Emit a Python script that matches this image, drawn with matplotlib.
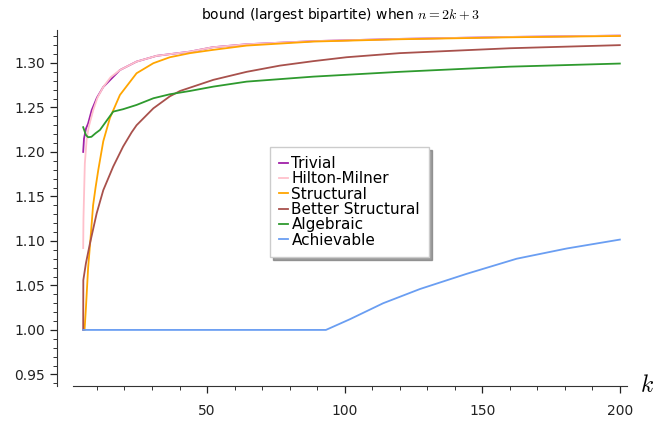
import matplotlib
matplotlib.use("Agg")
import matplotlib.pyplot as plt
from matplotlib.ticker import MultipleLocator

plt.rcParams['mathtext.fontset'] = 'cm'

# 値は画像から読み取り
k_trivial = [5.0, 5.3, 6.0, 6.8, 8.1, 10.0, 12.3, 18.35, 24.4, 31.7, 43.8, 52.0, 64.4, 88.6, 120, 160, 200]
y_trivial = [1.200, 1.215, 1.226, 1.232, 1.247, 1.261, 1.273, 1.292, 1.3015, 1.308, 1.3127,
             1.3176, 1.321, 1.3245, 1.327, 1.3292, 1.3307]

k_hm = [5.0, 5.1, 5.3, 5.6, 6.25, 7.0, 8.65, 10.2, 12.3, 15.0, 18.35, 24.4, 31.7, 43.8, 52.0,
        64.4, 88.6, 120, 160, 200]
y_hm = [1.092, 1.125, 1.150, 1.187, 1.2135, 1.228, 1.247, 1.261, 1.273, 1.284, 1.292, 1.3015,
        1.308, 1.3127, 1.3176, 1.321, 1.3245, 1.327, 1.3292, 1.3307]

k_struct = [5.5, 6.0, 6.8, 7.6, 8.6, 9.5, 10.5, 12.3, 14.7, 18.35, 24.4, 30.5, 36.5, 43.8, 52.0,
            64.4, 88.6, 120, 160, 200]
y_struct = [1.0, 1.025, 1.07, 1.10, 1.140, 1.160, 1.180, 1.212, 1.238, 1.264, 1.2884, 1.2997,
            1.3064, 1.311, 1.3146, 1.3195, 1.324, 1.3266, 1.3288, 1.3303]

k_better = [5.0, 5.05, 6.0, 7.45, 9.9, 12.3, 15.9, 19.5, 22.6, 24.4, 30.5, 36.5, 40.2, 52.3,
            64.4, 76.5, 88.6, 100.7, 120, 160, 200]
y_better = [1.0, 1.056, 1.075, 1.097, 1.131, 1.157, 1.1835, 1.206, 1.222, 1.230, 1.249, 1.2625,
            1.2685, 1.281, 1.290, 1.297, 1.302, 1.3064, 1.311, 1.3165, 1.320]

k_alg = [5.0, 6.0, 6.8, 8.0, 9.5, 11.1, 13.5, 15.9, 19.5, 24.4, 30.5, 36.5, 43.8, 52.3, 64.4,
         88.6, 120, 160, 200]
y_alg = [1.2278, 1.219, 1.2165, 1.217, 1.221, 1.2247, 1.235, 1.2453, 1.248, 1.2528, 1.2603,
         1.2648, 1.2685, 1.2734, 1.279, 1.2846, 1.290, 1.2958, 1.2993]

k_ach = [5.0, 93.2, 101.9, 114, 127.4, 144.3, 162.5, 180.7, 200]
y_ach = [1.0, 1.0, 1.012, 1.030, 1.046, 1.063, 1.080, 1.0915, 1.1015]

series = [
    (k_trivial, y_trivial, 'Trivial', '#a020a8'),
    (k_hm, y_hm, 'Hilton-Milner', 'pink'),
    (k_struct, y_struct, 'Structural', 'orange'),
    (k_better, y_better, 'Better Structural', '#a8514c'),
    (k_alg, y_alg, 'Algebraic', '#2e9a2e'),
    (k_ach, y_ach, 'Achievable', '#6a9ef2'),
]

fig = plt.figure(figsize=(6.54, 4.24), dpi=100)
ax = fig.add_axes([73 / 654, 38 / 424, 554 / 654, 356 / 424])

for ks, ys, label, color in series:
    ax.plot(ks, ys, color=color, lw=1.3, label=label)

ax.set_xlim(1.3, 202.6)
ax.set_ylim(0.937, 1.337)

for side in ['top', 'right']:
    ax.spines[side].set_visible(False)
ax.spines['left'].set_position(('outward', 11.5))
ax.spines['left'].set_color('#333333')
ax.spines['bottom'].set_color('#333333')

ax.xaxis.set_major_locator(MultipleLocator(50))
ax.xaxis.set_minor_locator(MultipleLocator(10))
ax.yaxis.set_major_locator(MultipleLocator(0.05))
ax.yaxis.set_minor_locator(MultipleLocator(0.01))
ax.yaxis.set_major_formatter(plt.FuncFormatter(lambda v, p: f"{v:.2f}"))
ax.tick_params(which='major', length=5, width=0.9, labelsize=10, colors='#222222')
ax.tick_params(which='minor', length=3, width=0.7, colors='#333333')
ax.tick_params(axis='x', pad=8)

fig.text(340 / 654, 1 - 15 / 424, r'bound (largest bipartite) when $n = 2k + 3$',
         fontsize=10, ha='center', va='center')
fig.text(640 / 654, 1 - 385 / 424, r'$k$', fontsize=17, ha='left', va='center')

ax.legend(loc='upper left', bbox_to_anchor=(270 / 654, 1 - 147 / 424),
          bbox_transform=fig.transFigure, borderaxespad=0, fancybox=False,
          shadow={'color': '#777777', 'alpha': 0.7}, handlelength=0.6, handletextpad=0.2,
          labelspacing=0.02, borderpad=0.6, fontsize=11, framealpha=1, edgecolor='#cccccc')

plt.savefig("out.png", dpi=100)
plt.close(fig)
